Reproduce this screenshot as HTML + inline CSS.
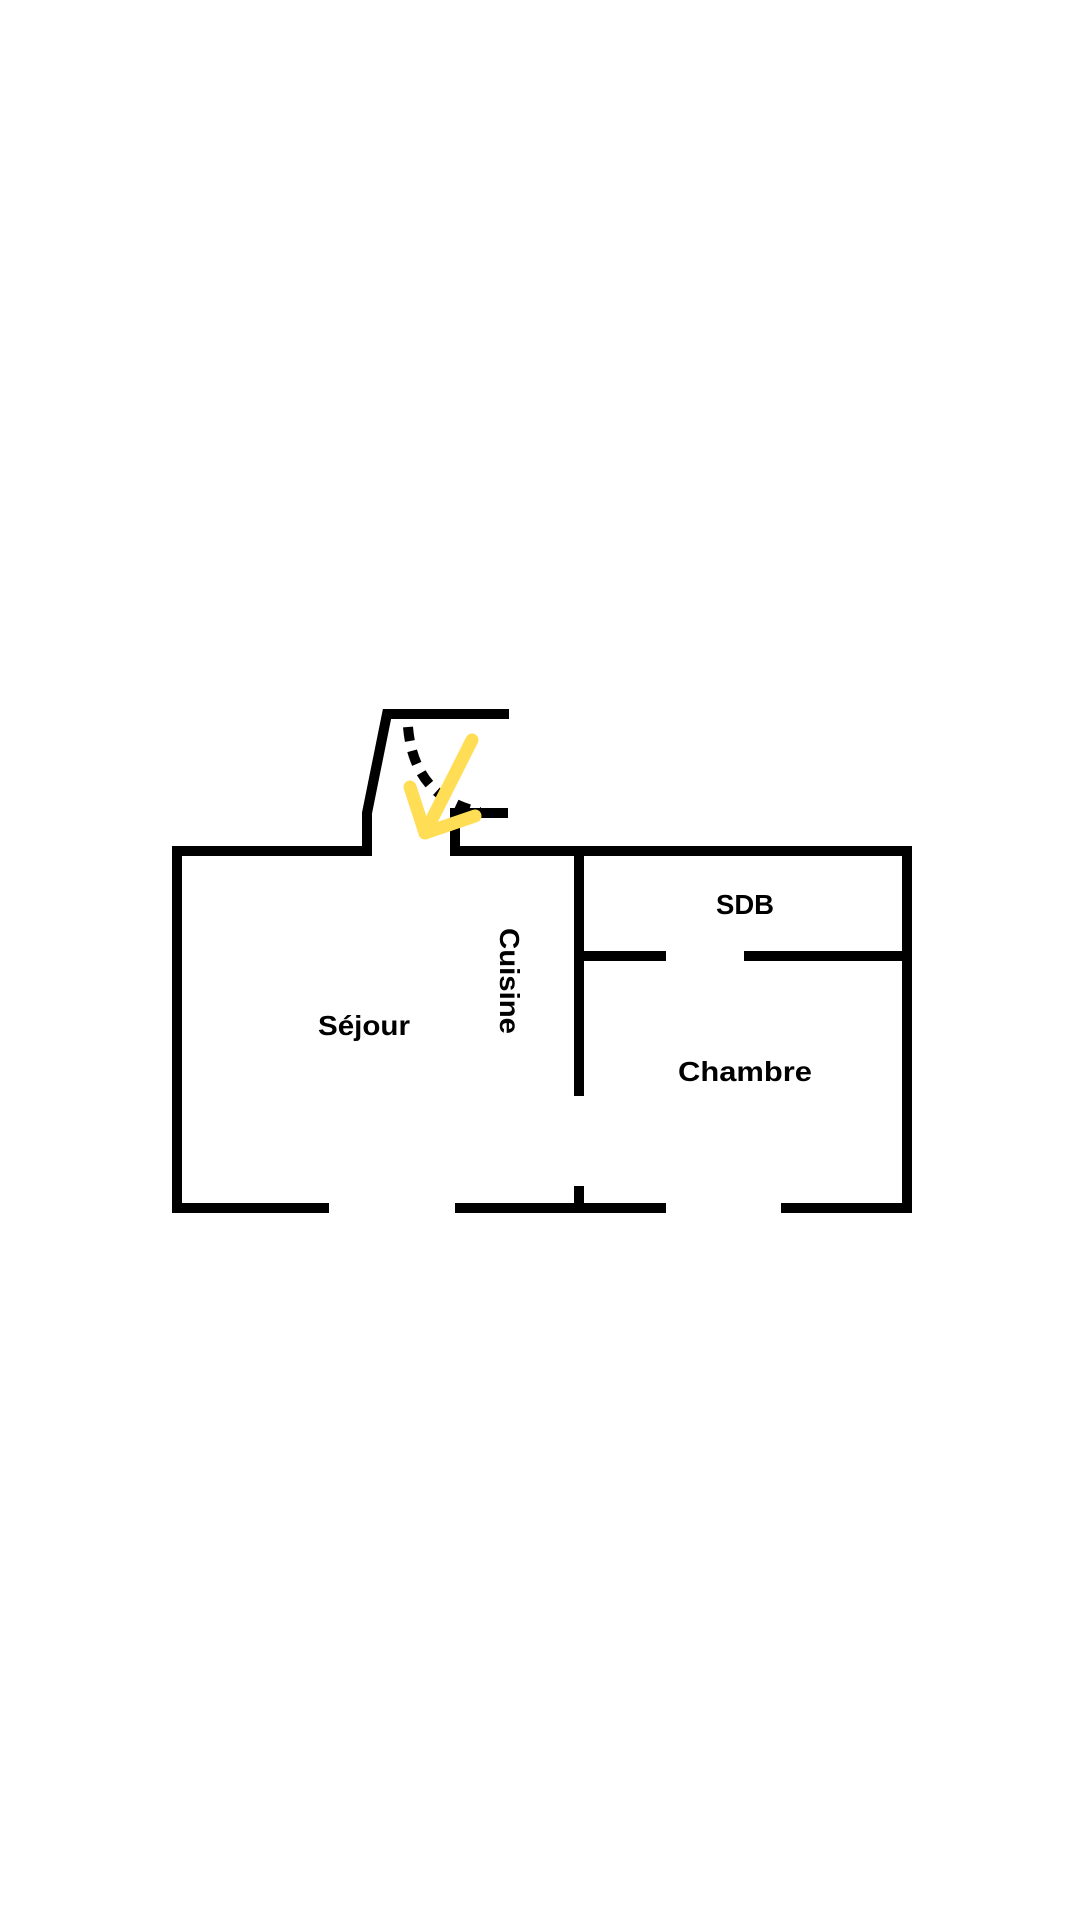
<!DOCTYPE html>
<html><head><meta charset="utf-8"><style>html,body{margin:0;padding:0;background:#fff;}svg{display:block}</style></head>
<body>
<svg width="1080" height="1920" viewBox="0 0 1080 1920" xmlns="http://www.w3.org/2000/svg">
<rect width="1080" height="1920" fill="#fff"/>
<g stroke="#000" stroke-width="10" fill="none" stroke-linecap="butt" stroke-linejoin="miter">
<polyline points="329,1208 177,1208 177,851 367,851 367,813 387,714 509,714"/>
<polyline points="455,811 455,851 907,851 907,1208 781,1208"/>
<line x1="455" y1="1208" x2="666" y2="1208"/>
<line x1="579" y1="851" x2="579" y2="1096"/>
<line x1="579" y1="1186" x2="579" y2="1208"/>
<line x1="579" y1="956" x2="666" y2="956"/>
<line x1="744" y1="956" x2="907" y2="956"/>
<line x1="450" y1="813" x2="508" y2="813"/>
<path d="M408 727 Q414 798 480 812" stroke-dasharray="14 10"/>
</g>
<g stroke="#FFDD55" stroke-width="13" fill="none" stroke-linecap="round" stroke-linejoin="round">
<line x1="472" y1="740" x2="425" y2="833"/>
<polyline points="410,787 425,833 475,816"/>
</g>
<g font-family="Liberation Sans, sans-serif" font-weight="bold" font-size="28" fill="#000" text-anchor="middle">
<text x="745" y="914" textLength="58" lengthAdjust="spacingAndGlyphs">SDB</text>
<text x="364" y="1035" textLength="92" lengthAdjust="spacingAndGlyphs">Séjour</text>
<text x="745" y="1081" textLength="134" lengthAdjust="spacingAndGlyphs">Chambre</text>
<text x="0" y="0" transform="translate(500,981) rotate(90)" textLength="106" lengthAdjust="spacingAndGlyphs">Cuisine</text>
</g>
</svg>
</body></html>
